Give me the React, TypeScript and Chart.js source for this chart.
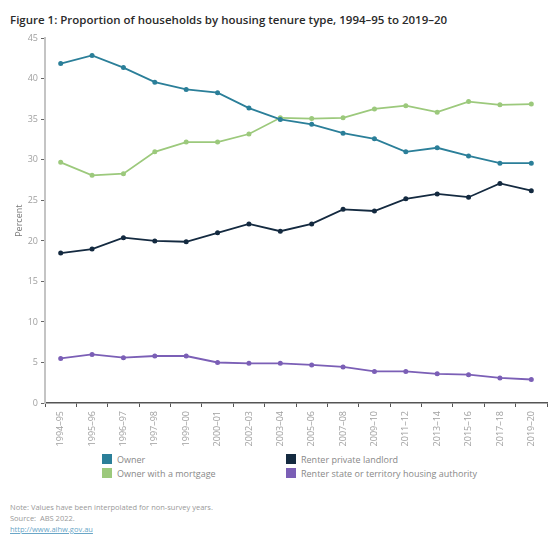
import React, { useEffect, useRef } from "react";
import { Chart, registerables } from "chart.js";

Chart.register(...registerables);

const categories = [
  "1994–95", "1995–96", "1996–97", "1997–98", "1999–00", "2000–01", "2002–03", "2003–04",
  "2005–06", "2007–08", "2009–10", "2011–12", "2013–14", "2015–16", "2017–18", "2019–20",
];

const owner = [41.9, 42.9, 41.4, 39.6, 38.7, 38.3, 36.4, 35.0, 34.4, 33.3, 32.6, 31.0, 31.5, 30.5, 29.6, 29.6];
const ownerMortgage = [29.7, 28.1, 28.3, 31.0, 32.2, 32.2, 33.2, 35.2, 35.1, 35.2, 36.3, 36.7, 35.9, 37.2, 36.8, 36.9];
const renterPrivate = [18.5, 19.0, 20.4, 20.0, 19.9, 21.0, 22.1, 21.2, 22.1, 23.9, 23.7, 25.2, 25.8, 25.4, 27.1, 26.2];
const renterState = [5.5, 6.0, 5.6, 5.8, 5.8, 5.0, 4.9, 4.9, 4.7, 4.45, 3.9, 3.9, 3.6, 3.5, 3.1, 2.9];

const seriesNames = [
  "Owner",
  "Owner with a mortgage",
  "Renter private landlord",
  "Renter state or territory housing authority",
];
const colors = ["#2b7f99", "#9cc97c", "#142a40", "#7b5fb6"];

const FONT = "'Open Sans', 'Noto Sans', sans-serif";

export default function App() {
  const ref = useRef<HTMLCanvasElement | null>(null);

  useEffect(() => {
    if (!ref.current) return;
    const data = [owner, ownerMortgage, renterPrivate, renterState];
    const chart = new Chart(ref.current, {
      type: "line",
      data: {
        labels: categories,
        datasets: data.map((d, i) => ({
          label: seriesNames[i],
          data: d,
          borderColor: colors[i],
          backgroundColor: colors[i],
          borderWidth: 1.8,
          pointRadius: 1.6,
          pointHoverRadius: 1.6,
          tension: 0,
        })),
      },
      options: {
        animation: false,
        responsive: false,
        maintainAspectRatio: false,
        layout: { padding: { top: 6, right: 7, left: 0, bottom: 0 } },
        plugins: {
          legend: { display: false },
          tooltip: { enabled: false },
        },
        scales: {
          x: {
            offset: true,
            grid: {
              offset: true,
              drawOnChartArea: false,
              drawTicks: true,
              tickLength: 4,
              color: "#555",
              lineWidth: 1,
            },
            border: { display: true, color: "#555", width: 1.5 },
            ticks: {
              minRotation: 90,
              maxRotation: 90,
              autoSkip: false,
              color: "#a0a0a0",
              font: { family: FONT, size: 9 },
              padding: 4,
            },
            afterFit: (scale: any) => {
              scale.height = 47;
            },
          },
          y: {
            min: 0,
            max: 45,
            ticks: {
              stepSize: 5,
              color: "#a0a0a0",
              font: { family: FONT, size: 9 },
              padding: 3,
            },
            grid: {
              drawOnChartArea: false,
              drawTicks: true,
              tickLength: 4,
              color: "#666",
            },
            border: { display: true, color: "#c4c4c4", width: 2 },
            title: {
              display: true,
              text: "Percent",
              color: "#777",
              font: { family: FONT, size: 9 },
              padding: { top: 14, bottom: 0 },
            },
            afterFit: (scale: any) => {
              scale.width = 45;
            },
          },
        },
      },
    });
    return () => chart.destroy();
  }, []);

  const legendItem = (i: number) => (
    <div style={{ display: "flex", alignItems: "center", height: 14 }}>
      <span
        style={{
          display: "inline-block",
          width: 10,
          height: 10,
          background: colors[i],
          marginRight: 5,
        }}
      />
      <span>{seriesNames[i]}</span>
    </div>
  );

  return (
    <div
      style={{
        position: "fixed",
        left: 0,
        top: 0,
        width: 554,
        height: 554,
        background: "#fff",
        fontFamily: FONT,
        overflow: "hidden",
      }}
    >
      <div
        style={{
          position: "absolute",
          left: 10,
          top: 12,
          fontSize: 11.5,
          color: "#2a2a2a",
          whiteSpace: "nowrap",
          fontWeight: 600,
        }}
      >
        Figure 1: Proportion of households by housing tenure type, 1994–95 to 2019–20
      </div>
      <canvas
        ref={ref}
        width={554}
        height={420}
        style={{ position: "absolute", left: 0, top: 30, width: 554, height: 420 }}
      />
      <div
        style={{
          position: "absolute",
          left: 102,
          top: 452,
          display: "grid",
          gridTemplateColumns: "184px 260px",
          rowGap: 0,
          fontSize: 9,
          color: "#888",
        }}
      >
        {legendItem(0)}
        {legendItem(2)}
        {legendItem(1)}
        {legendItem(3)}
      </div>
      <div
        style={{
          position: "absolute",
          left: 10,
          top: 502,
          fontSize: 7.5,
          color: "#999",
          lineHeight: "11px",
        }}
      >
        <div>Note: Values have been interpolated for non-survey years.</div>
        <div>Source:&nbsp; ABS 2022.</div>
        <div style={{ color: "#6aa6c7", textDecoration: "underline" }}>http://www.aihw.gov.au</div>
      </div>
    </div>
  );
}
